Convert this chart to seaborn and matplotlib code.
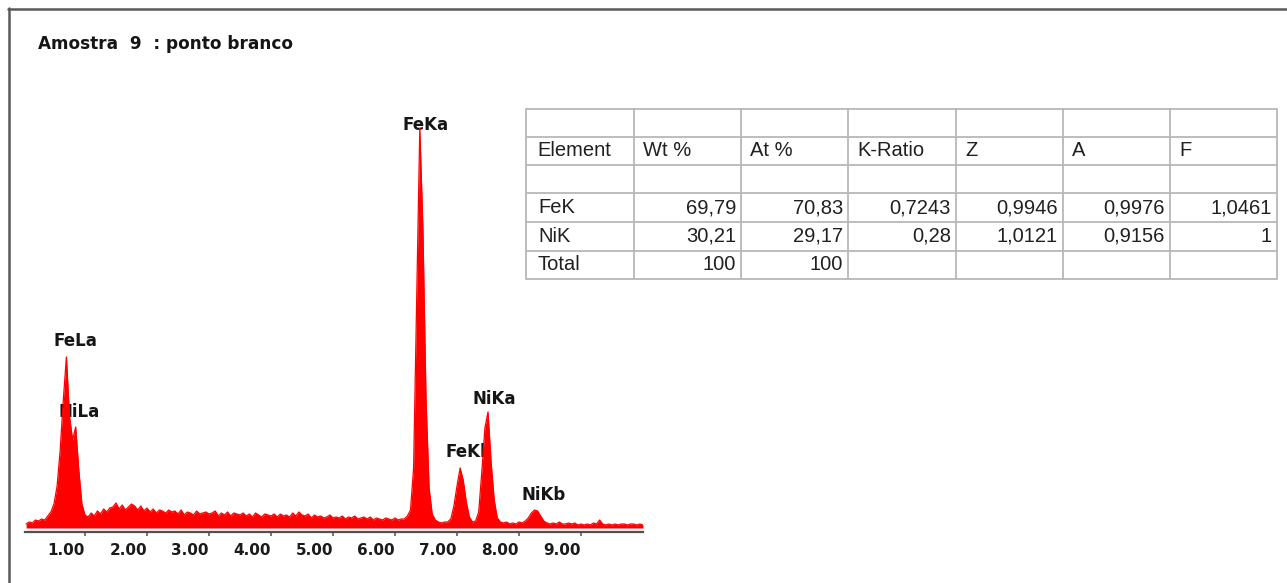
import numpy as np
import matplotlib
matplotlib.use("Agg")
import matplotlib.pyplot as plt
from matplotlib import font_manager as fm
from matplotlib.lines import Line2D
import seaborn as sns

# ---------------- data ----------------
title_text = "Amostra  9  : ponto branco"

# EDS spectrum, channels every 0.05 keV from 0.05 to 10.00 keV (counts, arbitrary units)
energy_step = 0.05
counts = [
    4, 6, 5, 8, 7, 9, 8, 12, 16, 24,            # 0.05-0.50
    42, 78, 128, 171, 112, 88, 101, 58, 24, 13,  # 0.55-1.00
    11, 15, 12, 17, 14, 19, 16, 20, 21, 25,      # 1.05-1.50
    19, 23, 18, 21, 24, 22, 18, 22, 17, 20,      # 1.55-2.00
    16, 19, 15, 18, 17, 15, 18, 16, 17, 14,      # 2.05-2.50
    18, 13, 16, 15, 13, 17, 14, 15, 16, 14,      # 2.55-3.00
    15, 17, 12, 15, 13, 16, 12, 15, 14, 13,      # 3.05-3.50
    15, 12, 14, 11, 15, 13, 11, 14, 13, 12,      # 3.55-4.00
    14, 11, 14, 12, 13, 11, 15, 12, 16, 13,      # 4.05-4.50
    12, 14, 10, 13, 11, 12, 10, 11, 13, 10,      # 4.55-5.00
    11, 10, 12, 9, 11, 10, 12, 9, 10, 11,        # 5.05-5.50
    9, 11, 8, 10, 9, 8, 10, 9, 8, 10,            # 5.55-6.00
    8, 9, 9, 12, 18, 60, 230, 400, 300, 130,     # 6.05-6.50
    40, 14, 8, 6, 5, 6, 6, 9, 22, 42,            # 6.55-7.00
    60, 48, 26, 11, 6, 7, 16, 56, 100, 116,      # 7.05-7.50
    66, 28, 10, 6, 5, 6, 4, 5, 4, 6,             # 7.55-8.00
    5, 7, 10, 15, 18, 17, 12, 7, 5, 4,           # 8.05-8.50
    5, 4, 6, 4, 4, 5, 4, 5, 3, 4,                # 8.55-9.00
    3, 4, 3, 5, 4, 8, 4, 3, 4, 3,                # 9.05-9.50
    4, 3, 4, 4, 3, 4, 4, 3, 4, 3,                # 9.55-10.00
]
energy_kev = np.round(energy_step * np.arange(1, len(counts) + 1), 2)

peak_names = ["FeLa", "NiLa", "FeKa", "FeKb", "NiKa", "NiKb"]

tick_values = [1, 2, 3, 4, 5, 6, 7, 8, 9]
tick_labels = ["1.00", "2.00", "3.00", "4.00", "5.00", "6.00", "7.00", "8.00", "9.00"]

table_header = ["Element", "Wt %", "At %", "K-Ratio", "Z", "A", "F"]
table_elements = ["FeK", "NiK", "Total"]
wt_pct = [69.79, 30.21, 100]
at_pct = [70.83, 29.17, 100]
k_ratio = [0.7243, 0.28, None]
z_factor = [0.9946, 1.0121, None]
a_factor = [0.9976, 0.9156, None]
f_factor = [1.0461, 1, None]

# ---------------- layout / style ----------------
W, H = 1287, 583
RED = "#ff0000"
sns.set_style("white")
plt.rcParams["font.family"] = ["DejaVu Sans"]

names = {f.name for f in fm.fontManager.ttflist}
if "Liberation Sans Narrow" in names:
    tick_font = dict(family="Liberation Sans Narrow", size=14.5, weight="bold")
else:
    tick_font = dict(family="DejaVu Sans", size=11, weight="bold")

fig = plt.figure(figsize=(W / 100, H / 100), dpi=100)
fig.patch.set_facecolor("white")

# spectrum axes: 0 keV at px 23, 62 px per keV ; y: 1 unit = 1 px, zero at px 528
x0_px, px_per_kev = 23.0, 62.0
xmin, xmax = 0.03, 10.0
ymin, ymax = -4, 400
left = (x0_px + xmin * px_per_kev) / W
width = (xmax - xmin) * px_per_kev / W
bottom = (H - 532) / H
height = (532 - 128) / H
ax = fig.add_axes([left, bottom, width, height])
ax.set_facecolor("none")

sns.lineplot(x=energy_kev, y=counts, ax=ax, color=RED, linewidth=0.9, zorder=3)
ax.fill_between(energy_kev, 0, counts, color=RED, linewidth=0, zorder=2)
ax.set_xlim(xmin, xmax)
ax.set_ylim(ymin, ymax)
ax.set_xlabel("")
ax.set_ylabel("")
for s in ["top", "right", "left"]:
    ax.spines[s].set_visible(False)
ax.spines["bottom"].set_color("#505050")
ax.spines["bottom"].set_linewidth(1.6)
ax.set_yticks([])
ax.set_xticks(tick_values)
ax.set_xticklabels(tick_labels, ha="right", color="#1a1a1a", **tick_font)
ax.tick_params(axis="x", direction="out", length=3, width=1.1, color="#505050", pad=5,
               bottom=True)

# peak labels (anchor positions in keV / counts units), drawn beneath the spectrum
label_pos = {
    "FeLa": (0.84, 187),
    "NiLa": (0.90, 116),
    "FeKa": (6.50, 403),
    "FeKb": (7.19, 76),
    "NiKa": (7.60, 129),
    "NiKb": (8.40, 33),
}
for name in peak_names:
    lx, ly = label_pos[name]
    ax.text(lx, ly, name, ha="center", va="center", fontsize=12, fontweight="bold",
            color="#151515", clip_on=False, zorder=1)

# overlay axes in pixel coordinates for frame, title and table
ov = fig.add_axes([0, 0, 1, 1])
ov.set_xlim(0, W)
ov.set_ylim(H, 0)
ov.axis("off")
ov.set_zorder(-1)

frame_c = "#5a5a5a"
ov.add_line(Line2D([8, W], [8.5, 8.5], color=frame_c, lw=1.8))
ov.add_line(Line2D([8.5, 8.5], [8, H], color=frame_c, lw=1.8))

ov.text(38, 49, title_text, ha="left", va="baseline", fontsize=12.2, fontweight="bold",
        color="#151515")

# table
col_x = [526, 634, 741, 848, 956, 1063, 1170, 1277]
row_y = [109, 137, 165, 193, 222, 251, 279]
grid_c = "#b8b8b8"
for xx in col_x:
    ov.add_line(Line2D([xx, xx], [row_y[0], row_y[-1]], color=grid_c, lw=1.3))
for yy in row_y:
    ov.add_line(Line2D([col_x[0], col_x[-1]], [yy, yy], color=grid_c, lw=1.3))


def fmt(v):
    if v is None:
        return ""
    if float(v).is_integer():
        return str(int(v))
    return repr(float(v)).replace(".", ",")


tfont = dict(family=["Liberation Sans", "DejaVu Sans"], size=14.5, color="#202020")
hy = (row_y[1] + row_y[2]) / 2
for j, h in enumerate(table_header):
    ov.text(col_x[j] + (11 if j == 0 else 9), hy, h, ha="left", va="center", **tfont)

cols = [wt_pct, at_pct, k_ratio, z_factor, a_factor, f_factor]
for i, el in enumerate(table_elements):
    cy = (row_y[3 + i] + row_y[4 + i]) / 2
    ov.text(col_x[0] + 12, cy, el, ha="left", va="center", **tfont)
    for j, col in enumerate(cols):
        ov.text(col_x[j + 2] - 5, cy, fmt(col[i]), ha="right", va="center", **tfont)

fig.savefig("out.png", dpi=100, facecolor="white")
